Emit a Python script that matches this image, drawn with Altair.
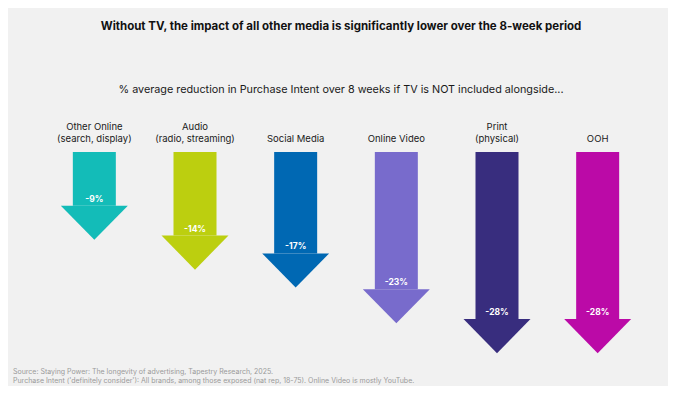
import altair as alt
import pandas as pd

categories = ["Other Online (search, display)", "Audio (radio, streaming)", "Social Media",
              "Online Video", "Print (physical)", "OOH"]
cat_line1 = ["Other Online", "Audio", "", "", "Print", ""]
cat_line2 = ["(search, display)", "(radio, streaming)", "Social Media", "Online Video", "(physical)", "OOH"]
values = [9, 14, 17, 23, 28, 28]
value_labels = ["-9%", "-14%", "-17%", "-23%", "-28%", "-28%"]
colors = ["#13bcb8", "#bccf0f", "#0068b3", "#786bcc", "#382d7e", "#bb0aa7"]

title = "Without TV, the impact of all other media is significantly lower over the 8-week period"
subtitle = "% average reduction in Purchase Intent over 8 weeks if TV is NOT included alongside..."
footer1 = "Source: Staying Power: The longevity of advertising, Tapestry Research, 2025."
footer2 = "Purchase Intent ('definitely consider'): All brands, among those exposed (nat rep, 18-75). Online Video is mostly YouTube."

df = pd.DataFrame({"cat": categories, "value": values, "label": value_labels,
                   "l1": cat_line1, "l2": cat_line2})

FONT = "Inter"
W, H = 604, 167

x = alt.X("cat:N", sort=categories, axis=None, scale=alt.Scale(paddingInner=0, paddingOuter=0))
y_scale = alt.Scale(domain=[0, 28], reverse=True, nice=False, zero=True)
y = alt.Y("value:Q", scale=y_scale, axis=None)
color = alt.Color("cat:N", scale=alt.Scale(domain=categories, range=colors), legend=None)

base = alt.Chart(df)

shaft = base.mark_bar(size=43).encode(x=x, y=y, color=color)

head = base.mark_point(shape="M-1,0L1,0L0,1.02Z", size=67 * 67, filled=True,
                       opacity=1, strokeWidth=0).encode(x=x, y=y, color=color)

val_text = base.mark_text(font=FONT, fontSize=8.5, fontWeight="bold", color="white",
                          baseline="bottom", dy=-2).encode(x=x, y=y, text="label:N")

cat_text1 = base.mark_text(font=FONT, fontSize=9.5, color="#1a1a1a", baseline="middle").encode(
    x=x, y=alt.value(-25.5), text="l1:N")
cat_text2 = base.mark_text(font=FONT, fontSize=9.5, color="#1a1a1a", baseline="middle").encode(
    x=x, y=alt.value(-13.5), text="l2:N")


def fixed_text(txt, xv, yv, **kw):
    return alt.Chart(pd.DataFrame({"t": [txt]})).mark_text(font=FONT, baseline="middle", **kw).encode(
        x=alt.value(xv), y=alt.value(yv), text="t:N")


title_text = fixed_text(title, 297, -125, fontSize=11.5, fontWeight="bold", color="#111111")
sub_text = fixed_text(subtitle, 297, -62, fontSize=10.8, color="#1a1a1a")
foot1 = fixed_text(footer1, -31, 219.5, fontSize=7, color="#9a9a9a", align="left")
foot2 = fixed_text(footer2, -31, 229, fontSize=7, color="#9a9a9a", align="left")

chart = alt.layer(shaft, head, val_text, cat_text1, cat_text2, title_text, sub_text,
                  foot1, foot2).properties(
    width=W, height=H,
    padding={"left": 36, "top": 144, "right": 20, "bottom": 67},
    autosize=alt.AutoSizeParams(type="none"),
    background="#f1f1f1",
).configure_view(stroke=None)

chart.save("out.html", embed_options={"renderer": "svg", "actions": False})
